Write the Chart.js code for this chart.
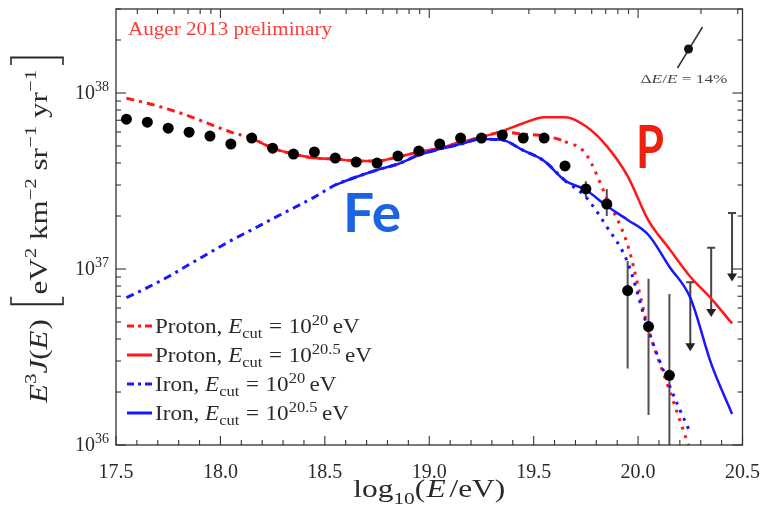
<!DOCTYPE html>
<html><head><meta charset="utf-8">
<script src="https://cdn.jsdelivr.net/npm/chart.js@4/dist/chart.umd.min.js"></script>
<style>html,body{margin:0;padding:0;background:#fff}</style>
</head><body>
<canvas id="c" width="768" height="509"></canvas>
<script>
// ---------- data ----------
const energyBins = [17.55,17.65,17.75,17.85,17.95,18.05,18.15,18.25,18.35,18.45,18.55,18.65,18.75,18.85,18.95,19.05,19.15,19.25,19.35,19.45,19.55,19.65,19.75,19.85,19.95,20.05,20.15,20.25,20.35,20.45];
const augerFlux = [7.10e37,6.82e37,6.31e37,5.99e37,5.69e37,5.13e37,5.54e37,4.86e37,4.50e37,4.62e37,4.27e37,4.05e37,4.00e37,4.38e37,4.68e37,5.13e37,5.54e37,5.54e37,5.77e37,5.54e37,5.54e37,3.85e37,2.85e37,2.34e37,7.54e36,4.71e36,2.49e36];
const fluxErrHigh = [null,null,null,null,null,null,null,null,null,null,null,null,null,null,null,null,null,null,null,null,null,null,3.15e37,2.85e37,1.11e37,8.8e36,7.2e36];
const fluxErrLow  = [null,null,null,null,null,null,null,null,null,null,null,null,null,null,null,null,null,null,null,null,null,null,2.55e37,2.0e37,2.72e36,1.48e36,1.0e36];
const upperLimitEnergy = [20.25,20.35,20.45];
const upperLimitValue = [8.4e36,1.32e37,2.08e37];
const upperLimitArrowEnd = [3.45e36,5.4e36,8.6e36];
const protonCut20  = [9.33e37,8.75e37,8.09e37,7.39e37,6.65e37,5.99e37,5.53e37,4.86e37,4.50e37,4.27e37,4.22e37,4.11e37,4.11e37,4.33e37,4.62e37,4.86e37,5.26e37,5.61e37,5.99e37,5.83e37,5.70e37,5.30e37,4.50e37,2.53e37,1.37e37,4.53e36,2.05e36,9.3e35,null,null];
const protonCut205 = [null,null,null,null,null,null,5.53e37,4.86e37,4.50e37,4.27e37,4.22e37,4.11e37,4.11e37,4.33e37,4.62e37,4.86e37,5.26e37,5.61e37,6.07e37,6.73e37,7.28e37,7.28e37,6.47e37,4.99e37,3.37e37,1.88e37,1.30e37,9.04e36,6.79e36,4.90e36];
const ironCut20    = [6.87e36,7.84e36,9.04e36,1.06e37,1.24e37,1.45e37,1.67e37,1.93e37,2.22e37,2.56e37,3.00e37,3.33e37,3.65e37,3.95e37,4.44e37,4.80e37,5.12e37,5.47e37,5.40e37,4.72e37,4.11e37,3.18e37,2.56e37,1.74e37,1.09e37,4.47e36,2.18e36,1.17e36,null,null];
const ironCut205   = [null,null,null,null,null,null,null,null,null,null,3.00e37,3.33e37,3.65e37,3.95e37,4.44e37,4.80e37,5.12e37,5.47e37,5.40e37,4.72e37,4.11e37,3.18e37,2.81e37,2.28e37,1.90e37,1.56e37,1.03e37,6.87e36,2.90e36,1.50e36];
const seriesParticle = ['Proton','Proton','Iron','Iron'];
const seriesCutExp = ['20','20.5','20','20.5'];
const xTickValues = [17.5,18.0,18.5,19.0,19.5,20.0,20.5];
const yTickExponents = [36,37,38];

// ---------- styles ----------
const RED = 'rgb(255,24,24)', BLUE = 'rgb(24,24,255)';
const SERIF = '"Liberation Serif","Times New Roman",serif';
const AXIS = '#333';
const DASHDOT = [8,5,3,5];

function pts(xs, ys){ return ys.map((y,i)=>({x:xs[i], y:y})); }

function richWidth(ctx, segs){
  let w=0;
  for(const s of segs){
    if(s.gap!==undefined){ w+=s.gap; continue; }
    if(s.bracket){ w+=s.w; continue; }
    ctx.font=s.font; w+=ctx.measureText(s.t).width;
  }
  return w;
}
function drawRich(ctx, segs, x, y, targetW, color, scaleX){
  const w = richWidth(ctx, segs);
  const sx = targetW ? targetW/w : (scaleX||1);
  ctx.save(); ctx.translate(x,y); ctx.scale(sx,1);
  ctx.fillStyle=color; ctx.strokeStyle=color; ctx.textBaseline='alphabetic'; ctx.textAlign='left';
  let cx=0;
  for(const s of segs){
    if(s.gap!==undefined){ cx+=s.gap; continue; }
    if(s.bracket){
      ctx.lineWidth=1.6; ctx.beginPath();
      const t=s.top, b=s.bot, hx = s.bracket==='[' ? cx+2 : cx+s.w-2, sd = s.bracket==='[' ? 6 : -6;
      ctx.moveTo(hx+sd,t); ctx.lineTo(hx,t); ctx.lineTo(hx,b); ctx.lineTo(hx+sd,b); ctx.stroke();
      cx+=s.w; continue;
    }
    ctx.font=s.font; ctx.fillText(s.t, cx, s.dy||0); cx+=ctx.measureText(s.t).width;
  }
  ctx.restore();
  return w*sx;
}
function line(ctx,x1,y1,x2,y2){ ctx.beginPath(); ctx.moveTo(x1,y1); ctx.lineTo(x2,y2); ctx.stroke(); }

const decor = {
  id:'decor',
  beforeDatasetsDraw(chart){
    const ctx=chart.ctx, xs=chart.scales.x, ys=chart.scales.y, ca=chart.chartArea;
    ctx.save();
    ctx.beginPath(); ctx.rect(ca.left,ca.top,ca.right-ca.left,ca.bottom-ca.top); ctx.clip();
    ctx.strokeStyle='#505050'; ctx.lineWidth=2;
    augerFlux.forEach((v,i)=>{
      if(fluxErrHigh[i]==null) return;
      const px=xs.getPixelForValue(energyBins[i]);
      line(ctx,px,ys.getPixelForValue(fluxErrHigh[i]),px,ys.getPixelForValue(fluxErrLow[i]));
    });
    ctx.strokeStyle='#444'; ctx.fillStyle='#222'; ctx.lineWidth=2;
    upperLimitEnergy.forEach((e,i)=>{
      const px=xs.getPixelForValue(e), pt=ys.getPixelForValue(upperLimitValue[i]), pb=ys.getPixelForValue(upperLimitArrowEnd[i]);
      line(ctx,px-4,pt,px+4,pt);
      line(ctx,px,pt,px,pb-6);
      ctx.beginPath(); ctx.moveTo(px-5,pb-7); ctx.lineTo(px+5,pb-7); ctx.lineTo(px,pb+1); ctx.closePath(); ctx.fill();
    });
    ctx.restore();
  },
  afterDraw(chart){
    const ctx=chart.ctx, xs=chart.scales.x, ys=chart.scales.y, ca=chart.chartArea;
    ctx.save();
    // frame
    ctx.strokeStyle=AXIS; ctx.lineWidth=1.3;
    ctx.strokeRect(ca.left,ca.top,ca.right-ca.left,ca.bottom-ca.top);
    ctx.lineWidth=1.1;
    // bottom ticks (linear)
    for(let k=0;k<=30;k++){
      const v=xs.min+k*0.1, px=xs.getPixelForValue(v), major=(k%5===0);
      line(ctx,px,ca.bottom,px,ca.bottom-(major?9:5));
    }
    // top ticks (log of energy)
    for(let n=17;n<=20;n++) for(let k=1;k<=9;k++){
      const v=n+Math.log10(k); if(v<xs.min||v>xs.max) continue;
      const px=xs.getPixelForValue(v);
      line(ctx,px,ca.top,px,ca.top+(k===1?9:5));
    }
    // left/right ticks
    for(let e=36;e<=38;e++) for(let k=1;k<=9;k++){
      const v=k*Math.pow(10,e); if(v<ys.min||v>ys.max) continue;
      const py=ys.getPixelForValue(v), L=(k===1?10:5);
      line(ctx,ca.left,py,ca.left+L,py);
      line(ctx,ca.right,py,ca.right-L,py);
    }
    // y tick labels
    yTickExponents.forEach(e=>{
      const py=ys.getPixelForValue(Math.pow(10,e));
      const segs=[{t:'10',font:`20px ${SERIF}`},{t:String(e),font:`14px ${SERIF}`,dy:-8}];
      const w=richWidth(ctx,segs);
      drawRich(ctx,segs,ca.left-7-w,py+6,null,'#2a2a2a');
    });
    // y axis title (rotated)
    const F=25, it=`italic ${F}px ${SERIF}`, rm=`${F}px ${SERIF}`, sup=`17px ${SERIF}`;
    const ySegs=[{t:'E',font:it},{t:'3',font:sup,dy:-11},{t:'J',font:it},{t:'(',font:rm},{t:'E',font:it},{gap:1},{t:')',font:rm},{gap:10},
      {bracket:'[',w:10,top:-36,bot:16},{t:'eV',font:rm},{t:'2',font:sup,dy:-11},{t:' km',font:rm},{t:'−2',font:sup,dy:-11},
      {t:' sr',font:rm},{t:'−1',font:sup,dy:-11},{t:' yr',font:rm},{t:'−1',font:sup,dy:-11},{gap:2},{bracket:']',w:10,top:-36,bot:16}];
    ctx.save(); ctx.translate(47,229); ctx.rotate(-Math.PI/2);
    drawRich(ctx,ySegs,-174,0,348,'#2a2a2a');
    ctx.restore();
    // x axis title
    const xSegs=[{t:'log',font:`25px ${SERIF}`},{t:'10',font:`17px ${SERIF}`,dy:7},{t:'(',font:`25px ${SERIF}`},{gap:1},{t:'E',font:`italic 25px ${SERIF}`},{gap:3},{t:'/eV)',font:`25px ${SERIF}`}];
    drawRich(ctx,xSegs,(ca.left+ca.right)/2-76,497,152,'#2a2a2a');
    // top-left label
    drawRich(ctx,[{t:'Auger 2013 preliminary',font:`18px ${SERIF}`}],ca.left+12,ca.top+26,204,'rgb(255,60,60)');
    // energy resolution marker
    ctx.strokeStyle='#333'; ctx.lineWidth=1.5;
    line(ctx,ca.right-65,ca.top+59,ca.right-40,ca.top+18);
    ctx.fillStyle='#111'; ctx.beginPath(); ctx.arc(ca.right-54,ca.top+40,4.5,0,Math.PI*2); ctx.fill();
    drawRich(ctx,[{t:'Δ',font:`13px ${SERIF}`},{t:'E',font:`italic 13px ${SERIF}`},{t:'/',font:`13px ${SERIF}`},{t:'E',font:`italic 13px ${SERIF}`},{t:' = 14%',font:`13px ${SERIF}`}],ca.right-102,ca.top+74,87,'#444');
    // big labels
    drawRich(ctx,[{t:'Fe',font:`bold 54px Lato, "DejaVu Sans", sans-serif`}],343,232,58,'rgb(28,98,228)');
    drawRich(ctx,[{t:'P',font:`bold 59px Lato, "DejaVu Sans", sans-serif`}],636,168,28,'rgb(236,34,14)');
    // legend
    const lcolors=[RED,RED,BLUE,BLUE], ldash=[[7,4,3,4],[],[7,4,3,4],[]];
    for(let i=0;i<4;i++){
      const y=ca.bottom-119+29*i;
      ctx.strokeStyle=lcolors[i]; ctx.lineWidth=3; ctx.setLineDash(ldash[i]);
      line(ctx,ca.left+11,y,ca.left+36,y); ctx.setLineDash([]);
      const segs=[{t:seriesParticle[i]+', ',font:`21px ${SERIF}`},{t:'E',font:`italic 21px ${SERIF}`},{t:'cut',font:`15px ${SERIF}`,dy:5},
        {gap:6},{t:'=',font:`21px ${SERIF}`},{gap:6},{t:'10',font:`21px ${SERIF}`},{t:seriesCutExp[i],font:`15px ${SERIF}`,dy:-8},{gap:4},{t:'eV',font:`21px ${SERIF}`}];
      drawRich(ctx,segs,ca.left+39,y+7,null,'#2a2a2a',1.1);
    }
    ctx.restore();
  }
};

const steep = c => (c.p0.parsed.x > 19.6 ? [3,6] : undefined);

new Chart(document.getElementById('c'), {
  type:'line',
  data:{ datasets:[
    {label:'Auger 2013 preliminary', data:pts(energyBins,augerFlux), showLine:false, pointRadius:5.5, pointHoverRadius:5.5,
     pointBackgroundColor:'#000', pointBorderColor:'#000', pointBorderWidth:0, order:0},
    {label:'Proton, Ecut = 10^20 eV', data:pts(energyBins,protonCut20), borderColor:RED, borderWidth:3, borderDash:DASHDOT,
     segment:{borderDash:steep}, pointRadius:0, cubicInterpolationMode:'monotone', order:3},
    {label:'Proton, Ecut = 10^20.5 eV', data:pts(energyBins,protonCut205), borderColor:RED, borderWidth:2.5,
     pointRadius:0, cubicInterpolationMode:'monotone', order:4},
    {label:'Iron, Ecut = 10^20 eV', data:pts(energyBins,ironCut20), borderColor:BLUE, borderWidth:3, borderDash:DASHDOT,
     segment:{borderDash:steep}, pointRadius:0, cubicInterpolationMode:'monotone', order:2},
    {label:'Iron, Ecut = 10^20.5 eV', data:pts(energyBins,ironCut205), borderColor:BLUE, borderWidth:2.5,
     pointRadius:0, cubicInterpolationMode:'monotone', order:1}
  ]},
  options:{
    responsive:false, animation:false, devicePixelRatio:1,
    layout:{padding:{left:116,right:21,top:9,bottom:0}},
    plugins:{legend:{display:false}, tooltip:{enabled:false}},
    scales:{
      x:{type:'linear', min:17.5, max:20.5,
         afterBuildTicks:s=>{ s.ticks = xTickValues.map(v=>({value:v})); },
         afterFit:s=>{ s.height=64; },
         grid:{display:false}, border:{display:false},
         ticks:{font:{family:SERIF,size:20}, color:'#2a2a2a', padding:8, maxRotation:0, callback:v=>Number(v).toFixed(1)}},
      y:{type:'logarithmic', min:1e36, max:3e38, display:false}
    }
  },
  plugins:[decor]
});
</script>
</body></html>
